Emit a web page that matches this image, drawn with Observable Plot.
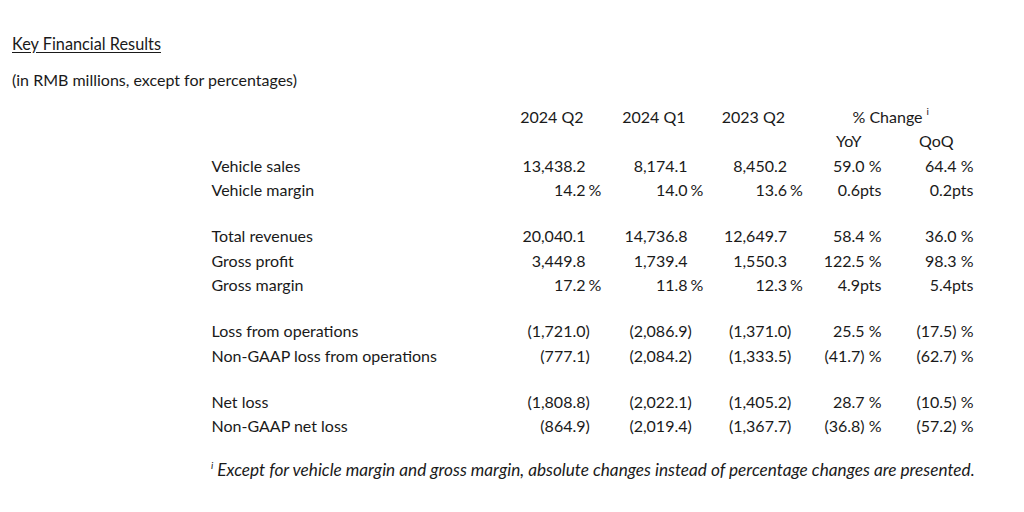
<!DOCTYPE html>
<html>
<head>
<meta charset="utf-8">
<script src="https://cdn.jsdelivr.net/npm/d3@7"></script>
<script src="https://cdn.jsdelivr.net/npm/@observablehq/plot@0.6"></script>
<style>
  html, body { margin: 0; padding: 0; background: #fff; }
  body { width: 1024px; height: 512px; position: relative; font-family: Lato, "Open Sans", sans-serif; color: #1a1a1a; }
  .t { position: absolute; line-height: 18px; font-size: 16px; white-space: nowrap; }
  #title { left: 12px; top: 35px; font-size: 16.3px; text-decoration: underline; text-underline-offset: 2px; }
  #subtitle { left: 12px; top: 71px; }
  #chart { position: absolute; left: 0; top: 98px; }
  #foot { left: 211px; top: 461px; font-style: italic; font-size: 17.2px; }
  #foot sup { font-size: 10px; vertical-align: 7px; line-height: 0; }
</style>
</head>
<body>
<div class="t" id="title">Key Financial Results</div>
<div class="t" id="subtitle">(in RMB millions, except for percentages)</div>
<div id="chart"></div>
<div class="t" id="foot"><sup>i</sup> Except for vehicle margin and gross margin, absolute changes instead of percentage changes are presented.</div>
<script>
// ---- data ----
const rowLabels = ["Vehicle sales", "Vehicle margin", "Total revenues", "Gross profit", "Gross margin",
  "Loss from operations", "Non-GAAP loss from operations", "Net loss", "Non-GAAP net loss"];
const rowGroups = [0, 0, 1, 1, 1, 2, 2, 3, 3];
const periodHeaders = ["2024 Q2", "2024 Q1", "2023 Q2"];
const changeHeader = "% Change";
const changeSubHeaders = ["YoY", "QoQ"];
const q2_2024 = ["13,438.2", "14.2 %", "20,040.1", "3,449.8", "17.2 %", "(1,721.0)", "(777.1)", "(1,808.8)", "(864.9)"];
const q1_2024 = ["8,174.1", "14.0 %", "14,736.8", "1,739.4", "11.8 %", "(2,086.9)", "(2,084.2)", "(2,022.1)", "(2,019.4)"];
const q2_2023 = ["8,450.2", "13.6 %", "12,649.7", "1,550.3", "12.3 %", "(1,371.0)", "(1,333.5)", "(1,405.2)", "(1,367.7)"];
const yoyChange = ["59.0 %", "0.6pts", "58.4 %", "122.5 %", "4.9pts", "25.5 %", "(41.7) %", "28.7 %", "(36.8) %"];
const qoqChange = ["64.4 %", "0.2pts", "36.0 %", "98.3 %", "5.4pts", "(17.5) %", "(62.7) %", "(10.5) %", "(57.2) %"];

// ---- table build ----
const colKeys = [...periodHeaders, ...changeSubHeaders];
const columns = [q2_2024, q1_2024, q2_2023, yoyChange, qoqChange];
const colNudge = [0, 5, 7.5, 5, 0]; // typographic alignment tweaks per column
const rows = rowLabels.map((label, i) => ({label, slot: i + rowGroups[i] * 0.88}));
const cells = rows.flatMap((r, i) => columns.map((col, j) => {
  const v = col[i];
  let core = v, suffix = "";
  if (j < 3 && v.endsWith(" %")) { core = v.slice(0, -2); suffix = "%"; }
  else if (j < 3 && v.endsWith(")")) { core = v.slice(0, -1); suffix = ")"; }
  return {slot: r.slot, key: colKeys[j], j, core, suffix};
}));
const periodHead = periodHeaders.map((h, j) => ({h, j}));
const subHead = changeSubHeaders.map((h, j) => ({h, j: j + 3}));

const fs = 16;
const byCol = (arr, j) => arr.filter(d => d.j === j);
const colMarks = colKeys.flatMap((key, j) => [
  Plot.text(byCol(cells, j), {x: "key", y: "slot", text: "core", textAnchor: "end", dx: colNudge[j], fontSize: fs}),
  Plot.text(byCol(cells, j).filter(d => d.suffix === "%"), {x: "key", y: "slot", text: "suffix", textAnchor: "start", dx: colNudge[j] + 3, fontSize: fs}),
  Plot.text(byCol(cells, j).filter(d => d.suffix === ")"), {x: "key", y: "slot", text: "suffix", textAnchor: "start", dx: colNudge[j], fontSize: fs}),
  Plot.text(byCol(periodHead, j), {x: d => colKeys[d.j], y: () => -2, text: "h", textAnchor: "end", dx: colNudge[j] - 2, fontSize: fs}),
  Plot.text(byCol(subHead, j), {x: d => colKeys[d.j], y: () => -1, text: "h", textAnchor: "end", dx: colNudge[j] - 20, fontSize: fs})
]);

const chart = Plot.plot({
  width: 1024,
  height: 350,
  marginLeft: 211,
  marginRight: 50,
  marginTop: 0,
  marginBottom: 0,
  x: {type: "point", domain: colKeys, range: [583, 974], padding: 0, axis: null},
  y: {domain: [0, 1], range: [68, 92.5], axis: null},
  style: {fontFamily: "Lato, 'Open Sans', sans-serif", color: "#1a1a1a", background: "white"},
  marks: [
    Plot.text(rows, {y: "slot", text: "label", frameAnchor: "left", textAnchor: "start", fontSize: fs}),
    ...colMarks,
    Plot.text([changeHeader], {x: () => "YoY", y: () => -2, text: d => d, textAnchor: "start", dx: 5 - 29, fontSize: fs}),
    Plot.text(["i"], {x: () => "YoY", y: () => -2, text: d => d, textAnchor: "start", dx: 5 + 45, dy: -6, fontSize: 10})
  ]
});
document.getElementById("chart").append(chart);
</script>
</body>
</html>
